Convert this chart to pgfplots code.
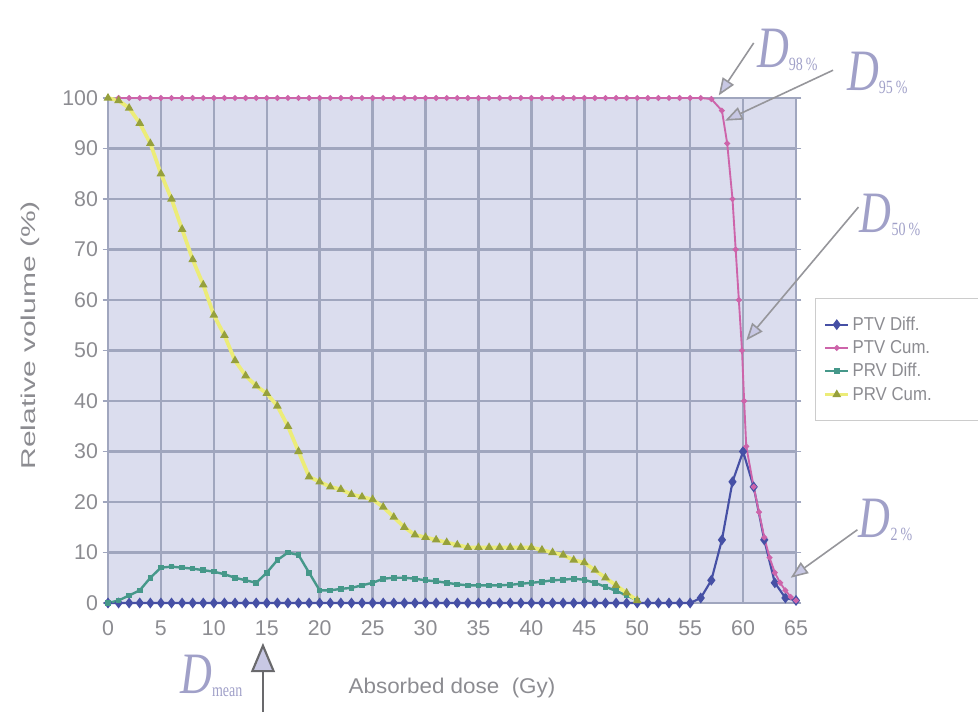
\documentclass[border=0pt]{standalone}
\usepackage{fontspec}
\setmainfont{Liberation Sans}
\newfontfamily\ticfont{Liberation Sans}
\newfontfamily\xlabfont[FakeStretch=1.05]{Liberation Sans}
\newfontfamily\ylabfont[FakeStretch=1.5]{Liberation Sans}
\newfontfamily\legfont[FakeStretch=0.9]{Liberation Sans}
\newfontfamily\dfont[FakeStretch=0.75]{Liberation Serif}
\usepackage{pgfplots}
\pgfplotsset{compat=1.18}
\usetikzlibrary{arrows.meta}

\definecolor{bgc}{RGB}{219,221,238}
\definecolor{gridc}{RGB}{160,166,190}
\definecolor{txtc}{RGB}{140,140,145}
\definecolor{ptvd}{RGB}{70,80,165}
\definecolor{ptvc}{RGB}{205,100,170}
\definecolor{prvd}{RGB}{70,152,138}
\definecolor{prvc}{RGB}{236,236,120}
\definecolor{prvcm}{RGB}{150,160,60}
\definecolor{annc}{RGB}{160,160,200}
\definecolor{arrc}{RGB}{150,150,155}
\definecolor{headc}{RGB}{200,200,228}

% big italic D with a small subscript
\newcommand{\Dlab}[2][-2pt]{{\dfont\fontsize{44}{44}\selectfont\itshape D}{\dfont\fontsize{14}{14}\selectfont\raisebox{#1}{#2}}}

\begin{document}
\begin{tikzpicture}
\begin{axis}[
    scale only axis,
    width=516pt, height=378.75pt,
    xmin=0, xmax=65, ymin=0, ymax=100,
    xtick={0,5,...,65}, ytick={0,10,...,100},
    grid=major,
    grid style={gridc, line width=1.8pt},
    axis line style={gridc, line width=1.8pt},
    axis background/.style={fill=bgc},
    tick align=outside, major tick length=4pt,
    tick style={gridc, line width=1.2pt},
    xtick style={draw=none},
    ticklabel style={font=\ticfont\fontsize{16}{18}\selectfont, text=txtc},
    /pgf/number format/assume math mode=true,
    xticklabel style={yshift=-6pt},
    xlabel={Absorbed dose\ \ (Gy)},
    ylabel={Relative volume (\%)},
    xlabel style={at={(axis description cs:0.5,-0.168)}, anchor=center, font=\xlabfont\fontsize{16}{18}\selectfont, text=txtc},
    ylabel style={at={(axis description cs:-0.113,0.53)}, anchor=center, font=\ylabfont\fontsize{15}{18}\selectfont, text=txtc},
    clip=false,
    legend style={at={(axis description cs:1.028,0.604)}, anchor=north west,
        draw=gray!40, fill=white, font=\legfont\fontsize{14}{16}\selectfont, text=txtc,
        row sep=2pt, inner xsep=6pt, inner ysep=12pt},
    legend cell align=left,
]
% PTV Diff.
\addplot[ptvd, line width=1.6pt, mark=diamond*, mark size=2.8pt, mark options={fill=ptvd}] coordinates {
(0,0) (1,0) (2,0) (3,0) (4,0) (5,0) (6,0) (7,0) (8,0) (9,0) (10,0) (11,0) (12,0) (13,0) (14,0)
(15,0) (16,0) (17,0) (18,0) (19,0) (20,0) (21,0) (22,0) (23,0) (24,0) (25,0) (26,0) (27,0) (28,0)
(29,0) (30,0) (31,0) (32,0) (33,0) (34,0) (35,0) (36,0) (37,0) (38,0) (39,0) (40,0) (41,0) (42,0)
(43,0) (44,0) (45,0) (46,0) (47,0) (48,0) (49,0) (50,0) (51,0) (52,0) (53,0) (54,0) (55,0)
(56,1) (57,4.5) (58,12.5) (59,24) (60,30) (61,23) (62,12.5) (63,4) (64,1) (65,0.5)};
% PTV Cum.
\addplot[ptvc, line width=1.4pt, mark=*, mark size=1.4pt, mark options={fill=ptvc}] coordinates {
(1,100) (2,100) (3,100) (4,100) (5,100) (6,100) (7,100) (8,100) (9,100) (10,100) (11,100) (12,100)
(13,100) (14,100) (15,100) (16,100) (17,100) (18,100) (19,100) (20,100) (21,100) (22,100) (23,100)
(24,100) (25,100) (26,100) (27,100) (28,100) (29,100) (30,100) (31,100) (32,100) (33,100) (34,100)
(35,100) (36,100) (37,100) (38,100) (39,100) (40,100) (41,100) (42,100) (43,100) (44,100) (45,100)
(46,100) (47,100) (48,100) (49,100) (50,100) (51,100) (52,100) (53,100) (54,100) (55,100) (56,100)
(57,99.8) (58,97.5) (58.5,91) (59,80) (59.3,70) (59.6,60) (59.9,50) (60.1,40) (60.3,31) (61,23)
(61.5,18) (62,13) (62.5,9) (63,6) (63.5,4) (64,2.5) (64.5,1.2) (65,0.5)};
% PRV Diff.
\addplot[prvd, line width=1.8pt, mark=square*, mark size=1.2pt, mark options={fill=prvd}] coordinates {
(0,0) (1,0.5) (2,1.5) (3,2.5) (4,5) (5,7) (6,7.2) (7,7) (8,6.8) (9,6.5) (10,6.2) (11,5.7) (12,5)
(13,4.5) (14,4) (15,6) (16,8.5) (17,10) (18,9.5) (19,6) (20,2.5) (21,2.5) (22,2.8) (23,3) (24,3.5)
(25,4) (26,4.8) (27,5) (28,5) (29,4.8) (30,4.5) (31,4.3) (32,4) (33,3.7) (34,3.5) (35,3.5) (36,3.5)
(37,3.5) (38,3.6) (39,3.8) (40,4) (41,4.2) (42,4.5) (43,4.6) (44,4.8) (45,4.6) (46,4) (47,3.2)
(48,2.4) (49,1.5) (50,0.5)};
% PRV Cum.
\addplot[prvc, line width=2.8pt, mark=triangle*, mark size=1.0pt, mark options={fill=prvcm, draw=prvcm}] coordinates {
(0,100) (1,99.5) (2,98) (3,95) (4,91) (5,85) (6,80) (7,74) (8,68) (9,63) (10,57) (11,53) (12,48)
(13,45) (14,43) (15,41.5) (16,39) (17,35) (18,30) (19,25) (20,24) (21,23) (22,22.5) (23,21.5)
(24,21) (25,20.5) (26,19) (27,17) (28,15) (29,13.5) (30,13) (31,12.5) (32,12) (33,11.5) (34,11)
(35,11) (36,11) (37,11) (38,11) (39,11) (40,11) (41,10.5) (42,10) (43,9.5) (44,8.5) (45,8) (46,6.5)
(47,5) (48,3.5) (49,2) (50,0.5)};
\legend{PTV Diff., PTV Cum., PRV Diff., PRV Cum.\hspace*{40pt}}

% dose annotations
\node[anchor=west, text=annc, inner sep=0pt] at (axis cs:61.3,109.5) {\Dlab{98\,\%}};
\node[anchor=west, text=annc, inner sep=0pt] at (axis cs:69.8,104.9) {\Dlab{95\,\%}};
\node[anchor=west, text=annc, inner sep=0pt] at (axis cs:71.0,76.8) {\Dlab{50\,\%}};
\node[anchor=west, text=annc, inner sep=0pt] at (axis cs:70.9,16.4) {\Dlab{2\,\%}};
\node[anchor=base west, text=annc, inner sep=0pt] at (axis cs:6.8,-18.0) {\Dlab[-2pt]{mean}};
\draw[arrc, line width=1.2pt, -{Triangle[length=13pt,width=10pt,fill=headc]}] (axis cs:61.0,110.9) -- (axis cs:57.7,100.5);
\draw[arrc, line width=1.2pt, -{Triangle[length=13pt,width=10pt,fill=headc]}] (axis cs:68.5,105.5) -- (axis cs:58.3,95.5);
\draw[arrc, line width=1.2pt, -{Triangle[length=13pt,width=10pt,fill=headc]}] (axis cs:70.9,78.4) -- (axis cs:60.3,52);
\draw[arrc, line width=1.2pt, -{Triangle[length=13pt,width=10pt,fill=headc]}] (axis cs:70.8,14.5) -- (axis cs:64.5,5);
\draw[arrc!70!black, line width=1.6pt, -{Triangle[length=22pt,width=18pt,fill=headc]}] (axis cs:14.64,-21.6) -- (axis cs:14.64,-7.9);
\end{axis}
\pgfresetboundingbox
\path ([xshift=-81pt,yshift=-81.75pt]current axis.south west) rectangle ([xshift=136.5pt,yshift=73.5pt]current axis.north east);
\end{tikzpicture}
\end{document}
